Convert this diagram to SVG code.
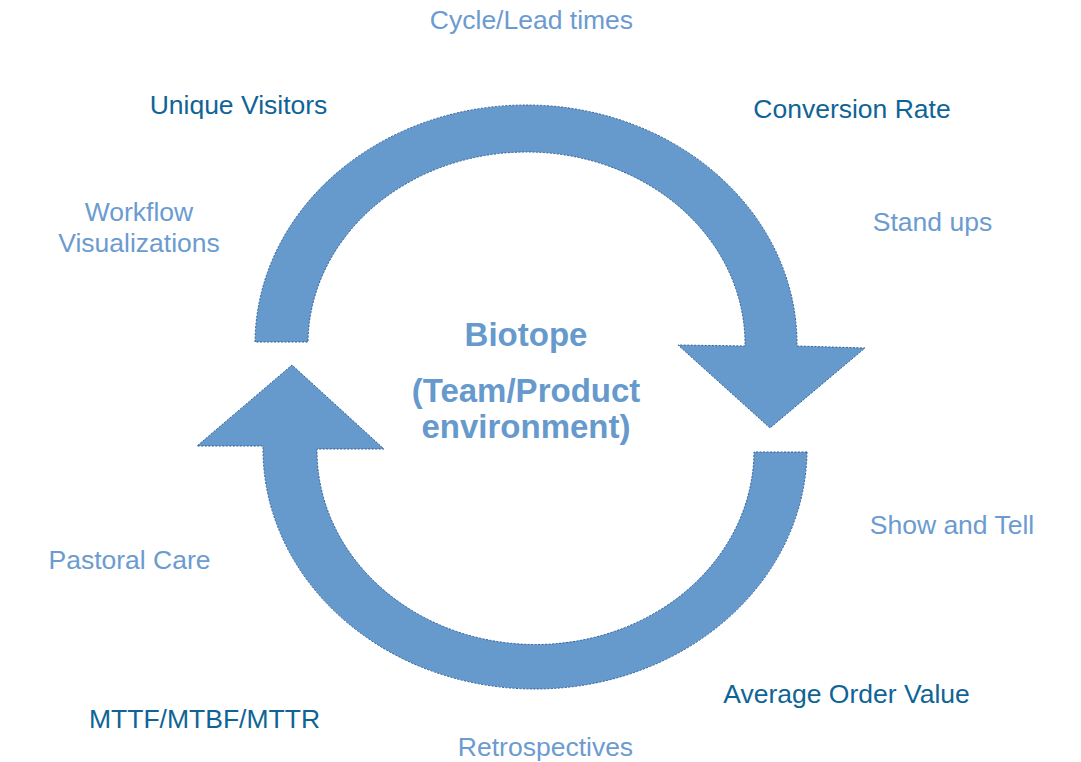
<svg xmlns="http://www.w3.org/2000/svg" width="1081" height="762" viewBox="0 0 1081 762">
<style>
.arrow{fill:#6699cc;stroke:#2f5f9a;stroke-width:1;stroke-dasharray:2 1.5;}
.t{font-family:"Liberation Sans",Arial,sans-serif;font-size:26.5px;text-anchor:middle;}
.dark{fill:#0f6496;}
.light{fill:#6b9bd0;}
.b{font-family:"Liberation Sans",Arial,sans-serif;font-size:33px;font-weight:bold;text-anchor:middle;fill:#6699cc;}
</style>
<rect width="1081" height="762" fill="#ffffff"/>
<g id="connectors">
<path id="arc-top" class="arrow" d="M255,342 A271,239 0 0 1 797,346 L865,348 L770,428 L678,345 L745,346 A218.5,192 0 0 0 308,342 Z"/>
<path id="arc-bottom" class="arrow" d="M807,452 A272,240 0 0 1 263,446 L197,446 L292,365 L384,449 L317,449 A218.5,194 0 0 0 754,452 Z"/>
</g>
<g id="center">
<text class="b" x="526" y="346">Biotope</text>
<text class="b" x="526" y="402">(Team/Product</text>
<text class="b" x="526" y="438">environment)</text>
</g>
<g id="cycle-lead"><text class="t light" x="531.5" y="29">Cycle/Lead times</text></g>
<g id="unique-visitors"><text class="t dark" x="238.5" y="114">Unique Visitors</text></g>
<g id="conversion-rate"><text class="t dark" x="852" y="118">Conversion Rate</text></g>
<g id="workflow"><text class="t light" x="139" y="221">Workflow</text><text class="t light" x="139" y="252">Visualizations</text></g>
<g id="stand-ups"><text class="t light" x="932.5" y="231">Stand ups</text></g>
<g id="show-tell"><text class="t light" x="952" y="534">Show and Tell</text></g>
<g id="pastoral"><text class="t light" x="129.5" y="569">Pastoral Care</text></g>
<g id="aov"><text class="t dark" x="846.5" y="703">Average Order Value</text></g>
<g id="mttf"><text class="t dark" x="204.5" y="728">MTTF/MTBF/MTTR</text></g>
<g id="retro"><text class="t light" x="545.5" y="756">Retrospectives</text></g>
</svg>
